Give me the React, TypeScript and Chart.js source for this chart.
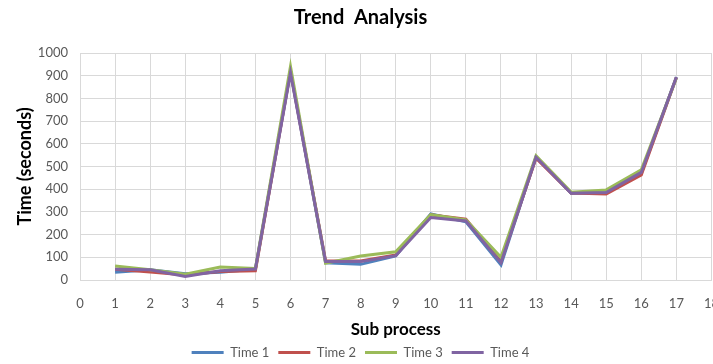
import React, { useEffect, useRef } from "react";
import { Chart, registerables } from "chart.js";

Chart.register(...registerables);

const subProcess = [1, 2, 3, 4, 5, 6, 7, 8, 9, 10, 11, 12, 13, 14, 15, 16, 17];
const time1 = [34, 45, 28, 34, 48, 920, 76, 69, 106, 291, 256, 66, 544, 382, 385, 470, 894];
const time2 = [47, 35, 22, 37, 41, 920, 85, 84, 110, 287, 268, 81, 537, 383, 379, 463, 892];
const time3 = [62, 45, 25, 57, 51, 941, 74, 106, 124, 288, 265, 100, 547, 387, 397, 485, 890];
const time4 = [47, 45, 15, 41, 48, 912, 81, 81, 107, 275, 260, 76, 541, 382, 385, 474, 893];
const seriesNames = ["Time 1", "Time 2", "Time 3", "Time 4"];
const seriesColors = ["#4F81BD", "#C0504D", "#9BBB59", "#8064A2"];

const FONT = "Lato, 'Noto Sans', sans-serif";
const CANVAS_W = 735;
const CENTER_SHIFT = 14;

const shiftBlocks = {
  id: "shiftBlocks",
  afterLayout(chart: any) {
    const blocks = [chart.titleBlock, chart.legend];
    blocks.forEach((b: any) => {
      if (!b) return;
      b.left -= CENTER_SHIFT;
      b.right -= CENTER_SHIFT;
    });
  },
};

export default function App() {
  const ref = useRef<HTMLCanvasElement | null>(null);

  useEffect(() => {
    document.body.style.margin = "0";
    document.body.style.overflow = "hidden";
    const all = [time1, time2, time3, time4];
    const chart = new Chart(ref.current as HTMLCanvasElement, {
      type: "line",
      data: {
        datasets: all.map((vals, i) => ({
          label: seriesNames[i],
          data: subProcess.map((x, j) => ({ x, y: vals[j] })),
          borderColor: seriesColors[i],
          backgroundColor: seriesColors[i],
          borderWidth: 3,
          pointRadius: 0,
          tension: 0,
          order: all.length - 1 - i,
        })),
      },
      plugins: [shiftBlocks],
      options: {
        animation: false,
        responsive: false,
        maintainAspectRatio: false,
        layout: { padding: { left: 14, right: 0, top: 0, bottom: -5 } },
        plugins: {
          title: {
            display: true,
            text: "Trend  Analysis",
            color: "#000",
            font: { family: FONT, size: 20, weight: "bold" },
            padding: { top: 6, bottom: 23 },
          },
          legend: {
            position: "bottom",
            labels: {
              usePointStyle: true,
              pointStyle: "line",
              pointStyleWidth: 32,
              boxWidth: 32,
              color: "#595959",
              font: { family: FONT, size: 13 },
              padding: 9,
              sort: (a: any, b: any) => a.datasetIndex - b.datasetIndex,
            },
          },
          tooltip: { enabled: false },
        },
        scales: {
          x: {
            type: "linear",
            min: 0,
            max: 18,
            ticks: {
              stepSize: 1,
              color: "#595959",
              font: { family: FONT, size: 13 },
              padding: 16,
              maxRotation: 0,
            },
            grid: { color: "#D9D9D9", drawTicks: false },
            border: { color: "#D9D9D9" },
            title: {
              display: true,
              text: "Sub process",
              color: "#000",
              font: { family: FONT, size: 17, weight: "bold", lineHeight: 0.9 },
              padding: { top: 4, bottom: 0 },
            },
            afterFit: (scale: any) => {
              scale.height = 57;
            },
          },
          y: {
            min: 0,
            max: 1000,
            ticks: {
              stepSize: 100,
              color: "#595959",
              font: { family: FONT, size: 13 },
              padding: 12,
              callback: (v: any) => String(v),
            },
            grid: { color: "#D9D9D9", drawTicks: false },
            border: { color: "#D9D9D9" },
            title: {
              display: true,
              text: "Time (seconds)",
              color: "#000",
              font: { family: FONT, size: 18, weight: "bold" },
              padding: { top: 0, bottom: 7 },
            },
            afterFit: (scale: any) => {
              scale.width = 66;
            },
          },
        },
      },
    });
    return () => chart.destroy();
  }, []);

  return (
    <div style={{ width: CANVAS_W, height: 364, position: "relative" }}>
      <canvas ref={ref} width={CANVAS_W} height={364} style={{ display: "block" }} />
    </div>
  );
}
